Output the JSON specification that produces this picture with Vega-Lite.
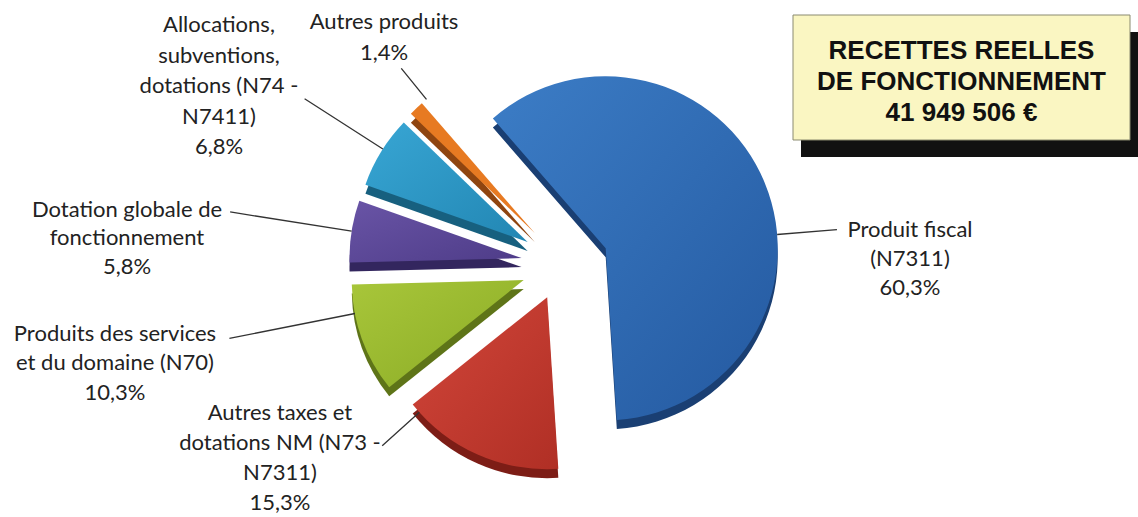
{
  "$schema": "https://vega.github.io/schema/vega-lite/v6.json",
  "background": "white",
  "padding": 0,
  "bounds": "flush",
  "spacing": 13,
  "config": {"view": {"stroke": null}},
  "hconcat": [
    {
      "width": 780,
      "height": 517,
      "data": {"values": [
        {"cat": "Produit fiscal", "label": "Produit fiscal\n(N7311)\n60,3%", "value": 60.3, "o": 1},
        {"cat": "Autres taxes", "label": "Autres taxes et\ndotations NM (N73 -\nN7311)\n15,3%", "value": 15.3, "o": 2},
        {"cat": "Produits des services", "label": "Produits des services\net du domaine (N70)\n10,3%", "value": 10.3, "o": 3},
        {"cat": "Dotation globale", "label": "Dotation globale de\nfonctionnement\n5,8%", "value": 5.8, "o": 4},
        {"cat": "Allocations", "label": "Allocations,\nsubventions,\ndotations (N74 -\nN7411)\n6,8%", "value": 6.8, "o": 5},
        {"cat": "Autres produits", "label": "Autres produits\n1,4%", "value": 1.4, "o": 6}
      ]},
      "transform": [
        {"stack": "value", "groupby": [], "sort": [{"field": "o", "order": "ascending"}], "as": ["v0", "v1"]}
      ],
      "encoding": {
        "theta": {"field": "v0", "type": "quantitative", "stack": null, "scale": {"domain": [0, 99.9], "range": [-0.7156, 5.5676]}},
        "theta2": {"field": "v1"}
      },
      "layer": [
        {"transform": [{"filter": "datum.cat === 'Produit fiscal'"}], "mark": {"type": "arc", "radius": 172, "fill": "#1a3f73", "xOffset": 215.7, "yOffset": -1.2}},
        {"transform": [{"filter": "datum.cat === 'Autres taxes'"}], "mark": {"type": "arc", "radius": 172, "fill": "#7d1d16", "xOffset": 157.2, "yOffset": 47.7}},
        {"transform": [{"filter": "datum.cat === 'Produits des services'"}], "mark": {"type": "arc", "radius": 172, "fill": "#5e7418", "xOffset": 133.7, "yOffset": 30.6}},
        {"transform": [{"filter": "datum.cat === 'Dotation globale'"}], "mark": {"type": "arc", "radius": 172, "fill": "#33265e", "xOffset": 131.5, "yOffset": 8.6}},
        {"transform": [{"filter": "datum.cat === 'Allocations'"}], "mark": {"type": "arc", "radius": 172, "fill": "#17607f", "xOffset": 137.6, "yOffset": -7.6}},
        {"transform": [{"filter": "datum.cat === 'Autres produits'"}], "mark": {"type": "arc", "radius": 172, "fill": "#8f4510", "xOffset": 144.7, "yOffset": -16.4}},

        {"transform": [{"filter": "datum.cat === 'Produit fiscal'"}], "mark": {"type": "arc", "radius": 172, "fill": {"gradient": "linear", "x1": 0, "y1": 0, "x2": 1, "y2": 1, "stops": [{"offset": 0, "color": "#3c7dc6"}, {"offset": 1, "color": "#2459a0"}]}, "xOffset": 215.7, "yOffset": -10.2}},
        {"transform": [{"filter": "datum.cat === 'Autres taxes'"}], "mark": {"type": "arc", "radius": 172, "fill": {"gradient": "linear", "x1": 0, "y1": 0, "x2": 1, "y2": 1, "stops": [{"offset": 0, "color": "#d2463a"}, {"offset": 1, "color": "#b02f25"}]}, "xOffset": 157.2, "yOffset": 38.7}},
        {"transform": [{"filter": "datum.cat === 'Produits des services'"}], "mark": {"type": "arc", "radius": 172, "fill": {"gradient": "linear", "x1": 0, "y1": 0, "x2": 1, "y2": 1, "stops": [{"offset": 0, "color": "#a8c63a"}, {"offset": 1, "color": "#8aab25"}]}, "xOffset": 133.7, "yOffset": 21.6}},
        {"transform": [{"filter": "datum.cat === 'Dotation globale'"}], "mark": {"type": "arc", "radius": 172, "fill": {"gradient": "linear", "x1": 0, "y1": 0, "x2": 1, "y2": 1, "stops": [{"offset": 0, "color": "#6954a6"}, {"offset": 1, "color": "#4e3c88"}]}, "xOffset": 131.5, "yOffset": -0.4}},
        {"transform": [{"filter": "datum.cat === 'Allocations'"}], "mark": {"type": "arc", "radius": 172, "fill": {"gradient": "linear", "x1": 0, "y1": 0, "x2": 1, "y2": 1, "stops": [{"offset": 0, "color": "#38a6d4"}, {"offset": 1, "color": "#2286b3"}]}, "xOffset": 137.6, "yOffset": -16.6}},
        {"transform": [{"filter": "datum.cat === 'Autres produits'"}], "mark": {"type": "arc", "radius": 172, "fill": "#e77a22", "xOffset": 144.7, "yOffset": -25.4}},

        {"transform": [{"filter": "datum.cat === 'Produit fiscal'"}], "mark": {"type": "arc", "radius": 232, "radius2": 172, "filled": false, "stroke": "#333333", "strokeWidth": 1.3, "xOffset": 215.7, "yOffset": -10.2, "thetaOffset": 2.2061, "theta2Offset": 2.2061}, "encoding": {"theta2": {"field": "v0"}}},
        {"transform": [{"filter": "datum.cat === 'Autres taxes'"}], "mark": {"type": "arc", "radius": 222, "radius2": 172, "filled": false, "stroke": "#333333", "strokeWidth": 1.3, "xOffset": 157.2, "yOffset": 38.7, "thetaOffset": 0.9024, "theta2Offset": 0.9024}, "encoding": {"theta2": {"field": "v0"}}},
        {"transform": [{"filter": "datum.cat === 'Produits des services'"}], "mark": {"type": "arc", "radius": 300, "radius2": 172, "filled": false, "stroke": "#333333", "strokeWidth": 1.3, "xOffset": 133.7, "yOffset": 21.6, "thetaOffset": 0.4777, "theta2Offset": 0.4777}, "encoding": {"theta2": {"field": "v0"}}},
        {"transform": [{"filter": "datum.cat === 'Dotation globale'"}], "mark": {"type": "arc", "radius": 295, "radius2": 172, "filled": false, "stroke": "#333333", "strokeWidth": 1.3, "xOffset": 131.5, "yOffset": -0.4, "thetaOffset": 0.1824, "theta2Offset": 0.1824}, "encoding": {"theta2": {"field": "v0"}}},
        {"transform": [{"filter": "datum.cat === 'Allocations'"}], "mark": {"type": "arc", "radius": 265, "radius2": 172, "filled": false, "stroke": "#333333", "strokeWidth": 1.3, "xOffset": 137.6, "yOffset": -16.6, "thetaOffset": 0.2313, "theta2Offset": 0.2313}, "encoding": {"theta2": {"field": "v0"}}},
        {"transform": [{"filter": "datum.cat === 'Autres produits'"}], "mark": {"type": "arc", "radius": 212, "radius2": 172, "filled": false, "stroke": "#333333", "strokeWidth": 1.3, "xOffset": 144.7, "yOffset": -25.4, "thetaOffset": 0.1230, "theta2Offset": 0.1230}, "encoding": {"theta2": {"field": "v0"}}},

        {"transform": [{"filter": "datum.cat === 'Produit fiscal'"}], "mark": {"type": "text", "radius": 300, "thetaOffset": 1.8963, "dx": 242.5, "dy": 85.6, "font": "Lato", "fontSize": 22, "lineHeight": 29, "lineBreak": "\n", "align": "center", "baseline": "middle", "color": "#222222"}, "encoding": {"theta2": null, "text": {"field": "label"}}},
        {"transform": [{"filter": "datum.cat === 'Autres taxes'"}], "mark": {"type": "text", "radius": 210, "thetaOffset": 0.4811, "dx": -25.1, "dy": -37.5, "font": "Lato", "fontSize": 22, "lineHeight": 30, "lineBreak": "\n", "align": "center", "baseline": "middle", "color": "#222222"}, "encoding": {"theta2": null, "text": {"field": "label"}}},
        {"transform": [{"filter": "datum.cat === 'Produits des services'"}], "mark": {"type": "text", "radius": 300, "thetaOffset": 0.3239, "dx": 6.9, "dy": -27.2, "font": "Lato", "fontSize": 22, "lineHeight": 29.5, "lineBreak": "\n", "align": "center", "baseline": "middle", "color": "#222222"}, "encoding": {"theta2": null, "text": {"field": "label"}}},
        {"transform": [{"filter": "datum.cat === 'Dotation globale'"}], "mark": {"type": "text", "radius": 300, "thetaOffset": 0.1824, "dx": 33.3, "dy": -1.6, "font": "Lato", "fontSize": 22, "lineHeight": 28.5, "lineBreak": "\n", "align": "center", "baseline": "middle", "color": "#222222"}, "encoding": {"theta2": null, "text": {"field": "label"}}},
        {"transform": [{"filter": "datum.cat === 'Allocations'"}], "mark": {"type": "text", "radius": 300, "thetaOffset": 0.2138, "dx": 84.2, "dy": -75.8, "font": "Lato", "fontSize": 22, "lineHeight": 30.5, "lineBreak": "\n", "align": "center", "baseline": "middle", "color": "#222222"}, "encoding": {"theta2": null, "text": {"field": "label"}}},
        {"transform": [{"filter": "datum.cat === 'Autres produits'"}], "mark": {"type": "text", "radius": 300, "thetaOffset": 0.0440, "dx": 200.6, "dy": -19, "font": "Lato", "fontSize": 22, "lineHeight": 31, "lineBreak": "\n", "align": "center", "baseline": "middle", "color": "#222222"}, "encoding": {"theta2": null, "text": {"field": "label"}}}
      ]
    },
    {
      "width": 337,
      "height": 155,
      "data": {"values": [{"t": "RECETTES REELLES\nDE FONCTIONNEMENT\n41 949 506 €"}]},
      "layer": [
        {"mark": {"type": "point", "shape": "M-1,-0.3709L1,-0.3709L1,0.3709L-1,0.3709Z", "size": 113569, "filled": true, "fill": "#111111", "opacity": 1, "strokeWidth": 0, "xOffset": 8, "yOffset": 17}},
        {"mark": {"type": "point", "shape": "M-1,-0.3709L1,-0.3709L1,0.3709L-1,0.3709Z", "size": 113569, "filled": true, "fill": "#faf6c2", "opacity": 1, "stroke": "#8a8a70", "strokeWidth": 1}},
        {"mark": {"type": "text", "font": "Liberation Sans", "fontWeight": "bold", "fontSize": 26, "lineHeight": 31, "lineBreak": "\n", "align": "center", "baseline": "middle", "dy": -27, "color": "#111111"}, "encoding": {"text": {"field": "t"}}}
      ]
    }
  ]
}
